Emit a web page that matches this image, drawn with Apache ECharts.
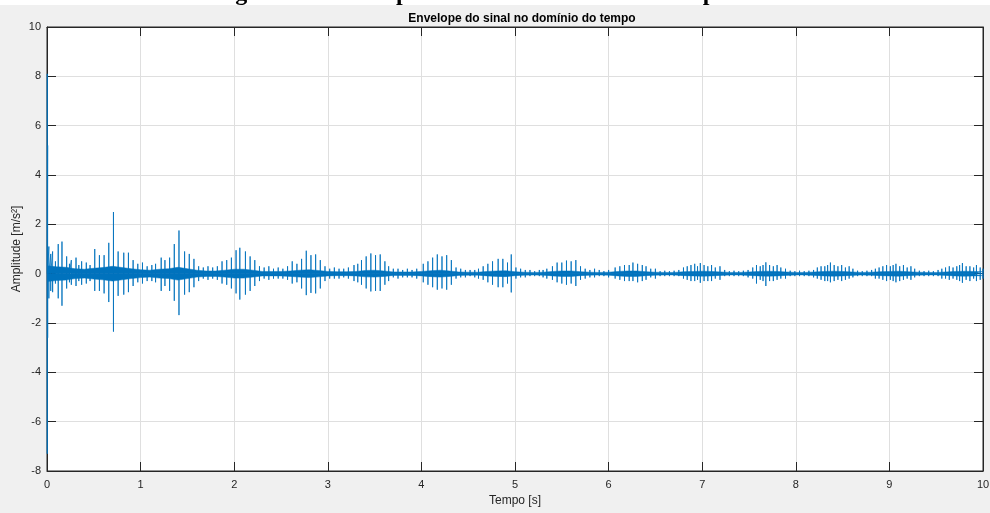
<!DOCTYPE html>
<html>
<head>
<meta charset="utf-8">
<script src="https://cdn.jsdelivr.net/npm/echarts@6/dist/echarts.min.js"></script>
<style>
  html, body { margin: 0; padding: 0; background: #f0f0f0; }
  #chart { width: 990px; height: 513px; }
</style>
</head>
<body>
<div id="chart"></div>
<script>
// Impact spikes of the envelope: time [s], positive peak and negative peak [m/s²]
const spikeTime = [
  0.003, 0.007, 0.02, 0.04, 0.06, 0.09, 0.12, 0.16, 0.21, 0.24, 0.26, 0.31, 0.34, 0.37, 0.42, 0.46,
  0.51, 0.56, 0.61, 0.66, 0.71, 0.76, 0.82, 0.87, 0.92, 0.97, 1.02, 1.07, 1.12, 1.16,
  1.22, 1.26, 1.31, 1.36, 1.41, 1.47, 1.52, 1.57, 1.62, 1.67, 1.72, 1.77, 1.82,
  1.87, 1.92, 1.97, 2.02, 2.06, 2.12, 2.17, 2.22, 2.27, 2.32, 2.37, 2.42, 2.47, 2.52, 2.57,
  2.62, 2.67, 2.72, 2.77, 2.82, 2.87, 2.92, 2.97, 3.02, 3.07, 3.12, 3.17, 3.22,
  3.28, 3.32, 3.36, 3.41, 3.46, 3.51, 3.56, 3.61, 3.65, 3.70, 3.75, 3.80, 3.85, 3.90, 3.95,
  4.02, 4.07, 4.12, 4.17, 4.22, 4.27, 4.32, 4.37, 4.42, 4.47, 4.52, 4.57,
  4.61, 4.66, 4.71, 4.76, 4.82, 4.87, 4.92, 4.96, 5.01, 5.06, 5.11, 5.16, 5.21, 5.26, 5.30,
  5.34, 5.40, 5.45, 5.50, 5.55, 5.60, 5.65, 5.70, 5.75, 5.80, 5.85, 5.90, 5.95, 6.00,
  6.07, 6.12, 6.17, 6.22, 6.26, 6.31, 6.36, 6.40, 6.45, 6.50, 6.55, 6.60, 6.65, 6.70, 6.75,
  6.80, 6.84, 6.88, 6.92, 6.95, 6.98, 7.02, 7.06, 7.10, 7.14, 7.19, 7.24, 7.29, 7.34, 7.39, 7.44, 7.49,
  7.54, 7.58, 7.62, 7.65, 7.68, 7.72, 7.76, 7.80, 7.84, 7.89, 7.94, 7.99, 8.04, 8.09, 8.14, 8.19,
  8.23, 8.27, 8.31, 8.34, 8.37, 8.41, 8.45, 8.49, 8.53, 8.57, 8.61, 8.66, 8.71, 8.76, 8.81,
  8.85, 8.89, 8.93, 8.97, 9.01, 9.04, 9.07, 9.11, 9.15, 9.19, 9.23, 9.27, 9.32, 9.37, 9.42, 9.47, 9.52,
  9.56, 9.60, 9.64, 9.68, 9.72, 9.75, 9.78, 9.82, 9.86, 9.90, 9.93, 9.97, 10.0
];
const spikeHigh = [
  8.1, 5.2, 1.1, 0.8, 0.9, 0.5, 1.2, 1.3, 0.7, 0.4, 0.55, 0.65, 0.35, 0.5, 0.45, 0.35,
  1.0, 0.75, 0.75, 1.25, 2.5, 0.9, 0.85, 0.85, 0.55, 0.4, 0.45, 0.3, 0.35, 0.4,
  0.65, 0.55, 0.65, 1.2, 1.75, 0.9, 0.8, 0.6, 0.3, 0.25, 0.3, 0.25, 0.3,
  0.5, 0.55, 0.65, 0.95, 1.05, 0.9, 0.7, 0.55, 0.3, 0.25, 0.3, 0.2, 0.25, 0.2, 0.3,
  0.5, 0.4, 0.6, 0.93, 0.75, 0.78, 0.55, 0.3, 0.2, 0.25, 0.2, 0.2, 0.25,
  0.35, 0.4, 0.55, 0.7, 0.82, 0.75, 0.78, 0.5, 0.3, 0.2, 0.2, 0.15, 0.2, 0.15, 0.2,
  0.4, 0.5, 0.65, 0.78, 0.7, 0.75, 0.55, 0.25, 0.2, 0.15, 0.15, 0.15,
  0.2, 0.3, 0.4, 0.5, 0.6, 0.6, 0.45, 0.78, 0.25, 0.2, 0.15, 0.15, 0.1, 0.15, 0.15,
  0.2, 0.3, 0.45, 0.45, 0.53, 0.5, 0.55, 0.3, 0.2, 0.15, 0.2, 0.15, 0.1, 0.15,
  0.25, 0.3, 0.35, 0.35, 0.45, 0.4, 0.35, 0.3, 0.2, 0.2, 0.1, 0.12, 0.1, 0.12, 0.15,
  0.25, 0.3, 0.35, 0.4, 0.3, 0.43, 0.35, 0.3, 0.35, 0.25, 0.3, 0.15, 0.1, 0.12, 0.1, 0.12, 0.15,
  0.25, 0.35, 0.3, 0.35, 0.46, 0.35, 0.3, 0.35, 0.25, 0.2, 0.12, 0.1, 0.12, 0.1, 0.12, 0.15,
  0.25, 0.3, 0.3, 0.35, 0.45, 0.35, 0.3, 0.35, 0.25, 0.3, 0.2, 0.12, 0.1, 0.12, 0.15,
  0.2, 0.25, 0.3, 0.35, 0.3, 0.35, 0.4, 0.3, 0.35, 0.25, 0.3, 0.2, 0.12, 0.1, 0.12, 0.1, 0.15,
  0.2, 0.25, 0.3, 0.25, 0.3, 0.35, 0.43, 0.3, 0.3, 0.25, 0.35, 0.25, 0.2
];
const spikeLow = [
  -7.3, -2.6, -1.0, -0.7, -0.75, -0.4, -1.0, -1.3, -0.6, -0.35, -0.45, -0.5, -0.3, -0.45, -0.4, -0.3,
  -0.7, -0.7, -0.8, -1.15, -2.35, -0.9, -0.85, -0.75, -0.5, -0.35, -0.4, -0.3, -0.3, -0.35,
  -0.7, -0.5, -0.7, -1.1, -1.68, -0.85, -0.75, -0.55, -0.3, -0.2, -0.25, -0.2, -0.25,
  -0.4, -0.45, -0.6, -0.8, -1.05, -0.85, -0.7, -0.5, -0.3, -0.2, -0.25, -0.2, -0.2, -0.2, -0.25,
  -0.4, -0.35, -0.6, -0.87, -0.78, -0.8, -0.6, -0.3, -0.2, -0.2, -0.2, -0.15, -0.2,
  -0.3, -0.35, -0.45, -0.6, -0.72, -0.7, -0.7, -0.45, -0.3, -0.15, -0.2, -0.15, -0.15, -0.15, -0.2,
  -0.35, -0.45, -0.55, -0.65, -0.6, -0.65, -0.45, -0.2, -0.15, -0.15, -0.1, -0.15,
  -0.2, -0.25, -0.35, -0.45, -0.55, -0.55, -0.4, -0.76, -0.2, -0.15, -0.15, -0.1, -0.1, -0.1, -0.15,
  -0.2, -0.25, -0.35, -0.4, -0.45, -0.4, -0.5, -0.25, -0.2, -0.15, -0.15, -0.1, -0.1, -0.15,
  -0.2, -0.25, -0.3, -0.3, -0.3, -0.35, -0.3, -0.25, -0.15, -0.2, -0.1, -0.1, -0.1, -0.1, -0.1,
  -0.2, -0.25, -0.3, -0.3, -0.25, -0.37, -0.3, -0.3, -0.3, -0.2, -0.25, -0.1, -0.1, -0.1, -0.1, -0.1, -0.15,
  -0.2, -0.4, -0.25, -0.3, -0.5, -0.3, -0.3, -0.25, -0.2, -0.2, -0.1, -0.1, -0.1, -0.1, -0.1, -0.15,
  -0.2, -0.25, -0.3, -0.3, -0.35, -0.3, -0.25, -0.3, -0.25, -0.2, -0.15, -0.1, -0.1, -0.1, -0.1,
  -0.2, -0.2, -0.25, -0.3, -0.25, -0.3, -0.35, -0.3, -0.25, -0.2, -0.25, -0.15, -0.1, -0.1, -0.1, -0.1, -0.1,
  -0.2, -0.2, -0.25, -0.2, -0.25, -0.3, -0.37, -0.25, -0.3, -0.2, -0.3, -0.25, -0.2
];

// Half-width of the dense vibration band around zero, sampled every 0.1 s from 0 to 10 s
const bandStep = 0.1;
const bandHalf = [
  0.32, 0.28, 0.26, 0.20, 0.18, 0.22, 0.25, 0.30, 0.25, 0.20,
  0.16, 0.14, 0.18, 0.20, 0.26, 0.20, 0.14, 0.11, 0.11, 0.14,
  0.18, 0.18, 0.14, 0.09, 0.09, 0.09, 0.11, 0.14, 0.16, 0.13,
  0.09, 0.08, 0.08, 0.09, 0.13, 0.14, 0.11, 0.07, 0.07, 0.07,
  0.09, 0.12, 0.14, 0.11, 0.07, 0.06, 0.06, 0.09, 0.11, 0.12,
  0.08, 0.06, 0.05, 0.06, 0.09, 0.11, 0.11, 0.08, 0.06, 0.05,
  0.06, 0.09, 0.11, 0.11, 0.08, 0.06, 0.05, 0.05, 0.08, 0.09,
  0.10, 0.09, 0.07, 0.05, 0.05, 0.07, 0.09, 0.10, 0.09, 0.07,
  0.05, 0.05, 0.07, 0.09, 0.10, 0.09, 0.07, 0.05, 0.06, 0.08,
  0.09, 0.10, 0.08, 0.06, 0.05, 0.05, 0.07, 0.09, 0.10, 0.09,
  0.08
];

// Axis ticks
const xTicks = [0, 1, 2, 3, 4, 5, 6, 7, 8, 9, 10];
const yTicks = [-8, -6, -4, -2, 0, 2, 4, 6, 8, 10];

const lineColor = '#0072BD';
const axisColor = '#262626';
const gridColor = '#dfdfdf';
const font = '"Liberation Sans", Arial, Helvetica, sans-serif';

// Each spike: a vertical stroke from zero up to its peak, down to its trough and back
const spikeData = [];
spikeTime.forEach((t, i) => {
  spikeData.push([t, 0], [t, spikeHigh[i]], [t, spikeLow[i]], [t, 0]);
});
const bandUpper = bandHalf.map((w, i) => [+(i * bandStep).toFixed(2), w]);
const bandLower = bandHalf.map((w, i) => [+(i * bandStep).toFixed(2), -w]);

const xBase = {
  type: 'value',
  min: xTicks[0], max: xTicks[xTicks.length - 1], interval: 1,
  axisLine: { show: true, onZero: false, lineStyle: { color: axisColor, width: 1 } },
  axisTick: { show: true, inside: true, length: 9, lineStyle: { color: axisColor } },
  splitLine: { show: false },
  axisLabel: { show: false }
};
const yBase = {
  type: 'value',
  min: yTicks[0], max: yTicks[yTicks.length - 1], interval: 2,
  axisLine: { show: true, onZero: false, lineStyle: { color: axisColor, width: 1 } },
  axisTick: { show: true, inside: true, length: 9, lineStyle: { color: axisColor } },
  splitLine: { show: false },
  axisLabel: { show: false }
};

const chart = echarts.init(document.getElementById('chart'), null, { renderer: 'canvas' });
chart.setOption({
  backgroundColor: '#f0f0f0',
  animation: false,
  title: {
    text: 'Envelope do sinal no domínio do tempo',
    left: 517, top: 8, textAlign: 'center',
    textStyle: { fontFamily: font, fontSize: 12, fontWeight: 'bold', color: '#000' }
  },
  graphic: [
    { type: 'rect', left: 0, top: 0, shape: { width: 990, height: 5 }, style: { fill: '#ffffff' }, z: 1 },
    {
      type: 'text', x: 214, y: -18, z: 2,
      style: {
        text: 'Figura 9 – Envelope do sinal no domínio do tempo',
        font: 'bold 24px "Liberation Serif", "Times New Roman", serif',
        fill: '#000', textAlign: 'left', textVerticalAlign: 'top'
      }
    }
  ],
  grid: { left: 47, right: 7, top: 27, bottom: 42, show: true, backgroundColor: '#ffffff', borderColor: axisColor, borderWidth: 1, containLabel: false, outerBoundsMode: 'none' },
  xAxis: [
    Object.assign({}, xBase, {
      position: 'bottom',
      splitLine: { show: true, lineStyle: { color: gridColor, width: 1 } },
      axisLabel: { show: true, color: axisColor, fontFamily: font, fontSize: 11, margin: 8 },
      name: 'Tempo [s]', nameLocation: 'middle', nameGap: 24, nameMoveOverlap: false,
      nameTextStyle: { color: axisColor, fontFamily: font, fontSize: 12 }
    }),
    Object.assign({}, xBase, { position: 'top' })
  ],
  yAxis: [
    Object.assign({}, yBase, {
      position: 'left',
      splitLine: { show: true, lineStyle: { color: gridColor, width: 1 } },
      axisLabel: { show: true, color: axisColor, fontFamily: font, fontSize: 11, margin: 6 },
      name: 'Amplitude [m/s²]', nameLocation: 'middle', nameGap: 24, nameRotate: 90, nameMoveOverlap: false,
      nameTextStyle: { color: axisColor, fontFamily: font, fontSize: 12 }
    }),
    Object.assign({}, yBase, { position: 'right' })
  ],
  series: [
    {
      name: 'picos', type: 'line', data: spikeData, showSymbol: false, symbol: 'none',
      lineStyle: { color: lineColor, width: 1, opacity: 0.85 }, silent: true, z: 3
    },
    {
      name: 'banda+', type: 'line', data: bandUpper, showSymbol: false, symbol: 'none',
      lineStyle: { color: lineColor, width: 0.5 }, areaStyle: { color: lineColor, opacity: 1, origin: 0 },
      silent: true, z: 4
    },
    {
      name: 'banda-', type: 'line', data: bandLower, showSymbol: false, symbol: 'none',
      lineStyle: { color: lineColor, width: 0.5 }, areaStyle: { color: lineColor, opacity: 1, origin: 0 },
      silent: true, z: 4
    }
  ]
});
</script>
</body>
</html>
